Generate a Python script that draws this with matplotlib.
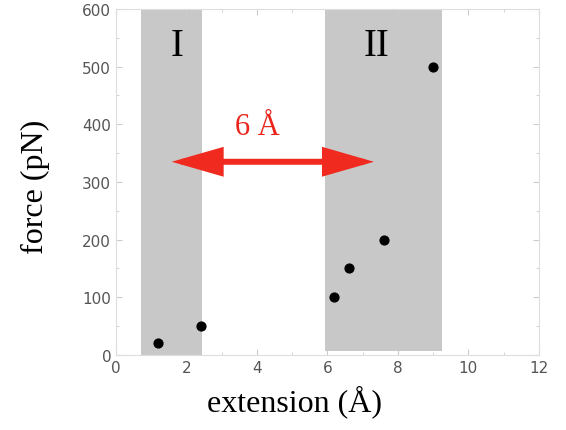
import numpy as np
import matplotlib.pyplot as plt
from matplotlib.patches import FancyArrowPatch

# data
extension = [1.2, 2.4, 6.2, 6.6, 7.6, 9.0]
force = [20, 50, 100, 150, 200, 500]

band_I = (0.72, 2.44)
band_II = (5.92, 9.25)

serif = 'Liberation Serif'

fig = plt.figure(figsize=(5.66, 4.31), dpi=100)
ax = fig.add_axes([0.205, 0.174, 0.747, 0.803])

ax.axvspan(band_I[0], band_I[1], ymin=0, ymax=1, color='#c8c8c8', lw=0, zorder=0)
ax.axvspan(band_II[0], band_II[1], ymin=0.012, ymax=1, color='#c8c8c8', lw=0, zorder=0)

ax.scatter(extension, force, s=40, color='black', zorder=3)

# double arrow
arr = FancyArrowPatch((1.58, 335), (7.32, 335), arrowstyle='<|-|>,head_length=12.5,head_width=3.6',
                      mutation_scale=2.2, color='#f02a1e', lw=4.3, zorder=4,
                      shrinkA=0, shrinkB=0, joinstyle='miter')
ax.add_patch(arr)
ax.text(4.0, 383, '6 Å', color='#e8261c', fontsize=22, family=serif,
        ha='center', va='baseline')

ax.text(1.73, 536, 'I', fontsize=28, family=serif, ha='center', va='center')
ax.text(7.4, 536, 'II', fontsize=28, family=serif, ha='center', va='center')

ax.set_xlim(0, 12)
ax.set_ylim(0, 600)
ax.set_xticks(np.arange(0, 13, 2))
ax.set_yticks(np.arange(0, 601, 100))
ax.set_xticks(np.arange(0, 12.1, 1), minor=True)
ax.set_yticks(np.arange(0, 601, 50), minor=True)
ax.tick_params(which='both', direction='in', top=True, right=True, color='#cccccc',
               labelcolor='#555555', labelsize=11)
ax.tick_params(which='major', length=4)
ax.tick_params(which='minor', length=2)
for s in ax.spines.values():
    s.set_color('#dddddd')

ax.set_xlabel('extension (Å)', fontsize=23, family=serif)
ax.set_ylabel('force (pN)', fontsize=23, family=serif)
ax.xaxis.set_label_coords(0.423, -0.085)
ax.yaxis.set_label_coords(-0.155, 0.49)

fig.savefig('out.png')
